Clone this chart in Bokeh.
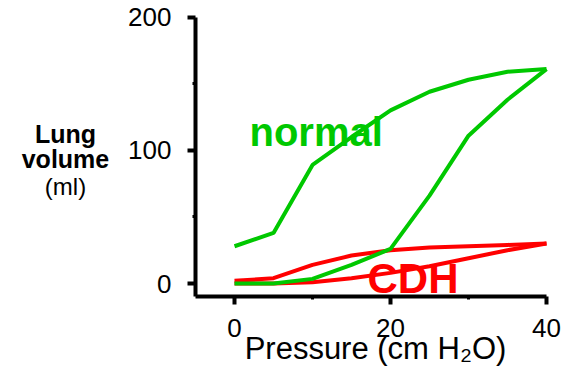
from bokeh.plotting import figure
from bokeh.models import FixedTicker, Range1d, Label
from bokeh.embed import file_html
from bokeh.resources import INLINE

pressure = [0, 5, 10, 15, 20, 25, 30, 35, 40]
normal_inflation = [0, 0, 3.5, 14, 26, 66, 111, 138, 161]
normal_deflation = [28, 38, 89, 110, 130, 144, 153, 159, 161]
cdh_inflation = [0, 0, 1, 4, 8, 13, 19, 25, 30]
cdh_deflation = [2, 4, 14, 21, 25, 27, 28, 29, 30]

x_ticks = [0, 20, 40]
x_minor = [10, 30]
y_ticks = [0, 100, 200]
y_minor = [50, 150]

GREEN = "#00C800"
RED = "#FF0000"
FONT = "Liberation Sans"

p = figure(width=562, height=374, output_backend="svg", toolbar_location=None,
           x_range=Range1d(-30, 42.05), y_range=Range1d(-68.3, 212.5),
           min_border=0)
p.outline_line_color = None
p.grid.visible = False
p.background_fill_color = "white"
p.border_fill_color = "white"

p.xaxis[0].fixed_location = -10
p.xaxis[0].bounds = (-5, 40)
p.yaxis[0].fixed_location = -5
p.yaxis[0].bounds = (-10, 200)

for ax, tk, mn in ((p.xaxis[0], x_ticks, x_minor), (p.yaxis[0], y_ticks, y_minor)):
    ax.ticker = FixedTicker(ticks=tk, minor_ticks=mn)
    ax.axis_line_width = 4
    ax.axis_line_color = "black"
    ax.major_tick_line_width = 4
    ax.major_tick_in = 0
    ax.major_tick_out = 8
    ax.minor_tick_line_width = 3
    ax.minor_tick_in = 0
    ax.minor_tick_out = 3
    ax.major_label_text_font = FONT
    ax.major_label_text_font_size = "26px"
    ax.major_label_text_color = "black"

p.yaxis[0].major_label_standoff = 16
p.xaxis[0].major_label_standoff = 14

p.line(pressure, cdh_deflation, line_color=RED, line_width=4)
p.line(pressure, cdh_inflation, line_color=RED, line_width=4)
p.line(pressure, normal_deflation, line_color=GREEN, line_width=4)
p.line(pressure, normal_inflation, line_color=GREEN, line_width=4)

p.add_layout(Label(x=1.92, y=113.6, text="normal", text_font=FONT, text_font_size="40px",
                   text_font_style="bold", text_color=GREEN, text_baseline="alphabetic"))
p.add_layout(Label(x=17.05, y=4.1, text="CDH", text_font=FONT, text_font_size="42px",
                   text_font_style="bold", text_color=RED, text_baseline="alphabetic"))

p.add_layout(Label(x=-21.67, y=112.0, text="Lung", text_font=FONT, text_font_size="25px",
                   text_font_style="bold", text_color="black", text_align="center",
                   text_baseline="alphabetic"))
p.add_layout(Label(x=-21.67, y=93.2, text="volume", text_font=FONT, text_font_size="25px",
                   text_font_style="bold", text_color="black", text_align="center",
                   text_baseline="alphabetic"))
p.add_layout(Label(x=-21.67, y=72.8, text="(ml)", text_font=FONT, text_font_size="24px",
                   text_color="black", text_align="center", text_baseline="alphabetic"))

p.add_layout(Label(x=18.08, y=-48.6, text="Pressure (cm H\u2082O)", text_font=FONT,
                   text_font_size="31px", text_color="black", text_align="center",
                   text_baseline="alphabetic"))

open("out.html", "w").write(file_html(p, INLINE))
